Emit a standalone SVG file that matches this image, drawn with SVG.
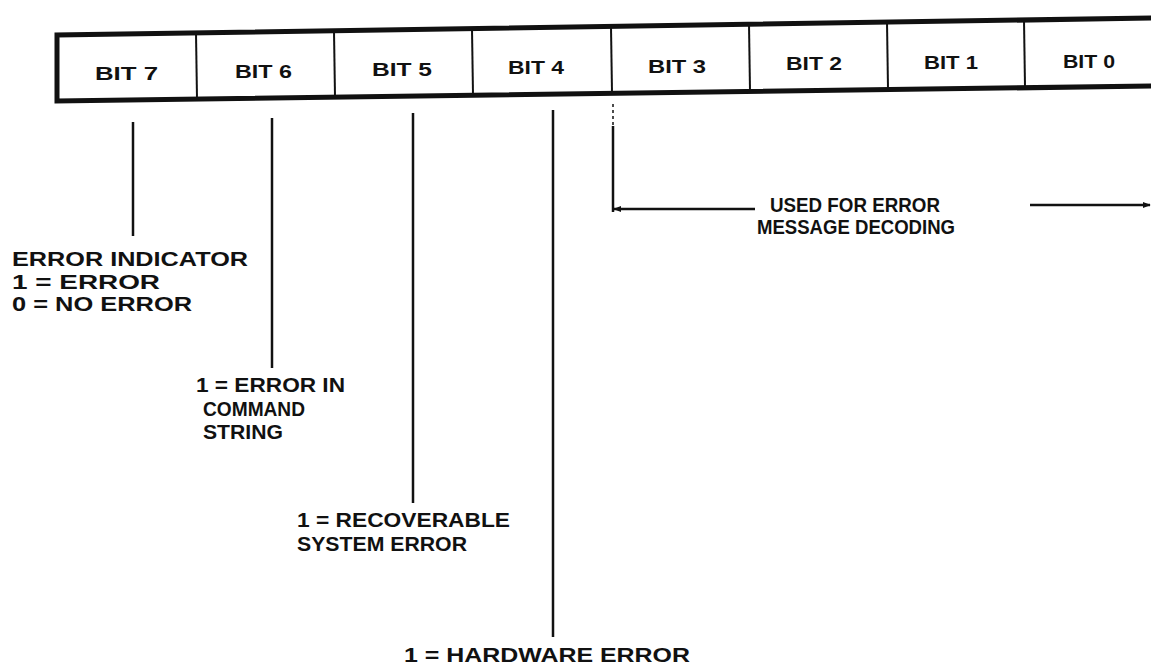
<svg xmlns="http://www.w3.org/2000/svg" width="1151" height="666" viewBox="0 0 1151 666">
<style>
text{font-family:"Liberation Sans",Arial,sans-serif;font-weight:bold;font-size:21px;fill:#111}
.bit{font-size:19px}
.frame{fill:none;stroke:#111;stroke-width:5}
.div{stroke:#111;stroke-width:2}
.lead{stroke:#111;stroke-width:2.5;fill:none}
</style>
<defs>
<marker id="ah" viewBox="0 0 10 10" refX="9" refY="5" markerWidth="8" markerHeight="8" markerUnits="userSpaceOnUse" orient="auto">
<path d="M0,1 L10,5 L0,9 Z" fill="#111"/>
</marker>
</defs>
<rect width="1151" height="666" fill="#fff"/>
<g id="register">
<path class="frame" d="M1153,18 L57,35 L57,101 L1153,86"/>
<line class="div" x1="196" y1="33" x2="197" y2="99"/>
<line class="div" x1="334" y1="31" x2="335" y2="97"/>
<line class="div" x1="472" y1="29" x2="473" y2="95"/>
<line class="div" x1="611" y1="27" x2="612" y2="93"/>
<line class="div" x1="749" y1="24" x2="750" y2="91"/>
<line class="div" x1="887" y1="22" x2="888" y2="89"/>
<line class="div" x1="1024" y1="20" x2="1025" y2="87"/>
<text class="bit" x="95" y="80" textLength="63" lengthAdjust="spacingAndGlyphs">BIT 7</text>
<text class="bit" x="235" y="78" textLength="57" lengthAdjust="spacingAndGlyphs">BIT 6</text>
<text class="bit" x="372" y="76" textLength="60" lengthAdjust="spacingAndGlyphs">BIT 5</text>
<text class="bit" x="508" y="74" textLength="56" lengthAdjust="spacingAndGlyphs">BIT 4</text>
<text class="bit" x="648" y="73" textLength="58" lengthAdjust="spacingAndGlyphs">BIT 3</text>
<text class="bit" x="786" y="70" textLength="56" lengthAdjust="spacingAndGlyphs">BIT 2</text>
<text class="bit" x="924" y="69" textLength="54" lengthAdjust="spacingAndGlyphs">BIT 1</text>
<text class="bit" x="1063" y="68" textLength="52" lengthAdjust="spacingAndGlyphs">BIT 0</text>
</g>
<g id="connectors">
<line class="lead" x1="133" y1="122" x2="133" y2="236"/>
<line class="lead" x1="272" y1="118" x2="272" y2="368"/>
<line class="lead" x1="413" y1="113" x2="413" y2="503"/>
<line class="lead" x1="553" y1="110" x2="553" y2="637"/>
<line x1="613" y1="104" x2="613" y2="126" stroke="#111" stroke-width="1.5" stroke-dasharray="3 3"/>
<line class="lead" x1="613" y1="126" x2="613" y2="212"/>
<line class="lead" x1="755" y1="209" x2="614" y2="209" marker-end="url(#ah)"/>
<line class="lead" x1="1030" y1="205" x2="1150" y2="205" marker-end="url(#ah)"/>
</g>
<g id="bit7-label">
<text x="12" y="266" textLength="236" lengthAdjust="spacingAndGlyphs">ERROR INDICATOR</text>
<text x="12" y="289" textLength="148" lengthAdjust="spacingAndGlyphs">1 = ERROR</text>
<text x="12" y="311" textLength="180" lengthAdjust="spacingAndGlyphs">0 = NO ERROR</text>
</g>
<g id="bit6-label">
<text x="196" y="392" textLength="149" lengthAdjust="spacingAndGlyphs">1 = ERROR IN</text>
<text x="203" y="416" textLength="102" lengthAdjust="spacingAndGlyphs">COMMAND</text>
<text x="203" y="439" textLength="80" lengthAdjust="spacingAndGlyphs">STRING</text>
</g>
<g id="bit5-label">
<text x="297" y="527" textLength="213" lengthAdjust="spacingAndGlyphs">1 = RECOVERABLE</text>
<text x="297" y="551" textLength="170" lengthAdjust="spacingAndGlyphs">SYSTEM ERROR</text>
</g>
<g id="bit4-label">
<text x="404" y="662" textLength="286" lengthAdjust="spacingAndGlyphs">1 = HARDWARE ERROR</text>
</g>
<g id="bits3-0-label">
<text x="770" y="212" textLength="170" lengthAdjust="spacingAndGlyphs">USED FOR ERROR</text>
<text x="757" y="234" textLength="198" lengthAdjust="spacingAndGlyphs">MESSAGE DECODING</text>
</g>
</svg>
